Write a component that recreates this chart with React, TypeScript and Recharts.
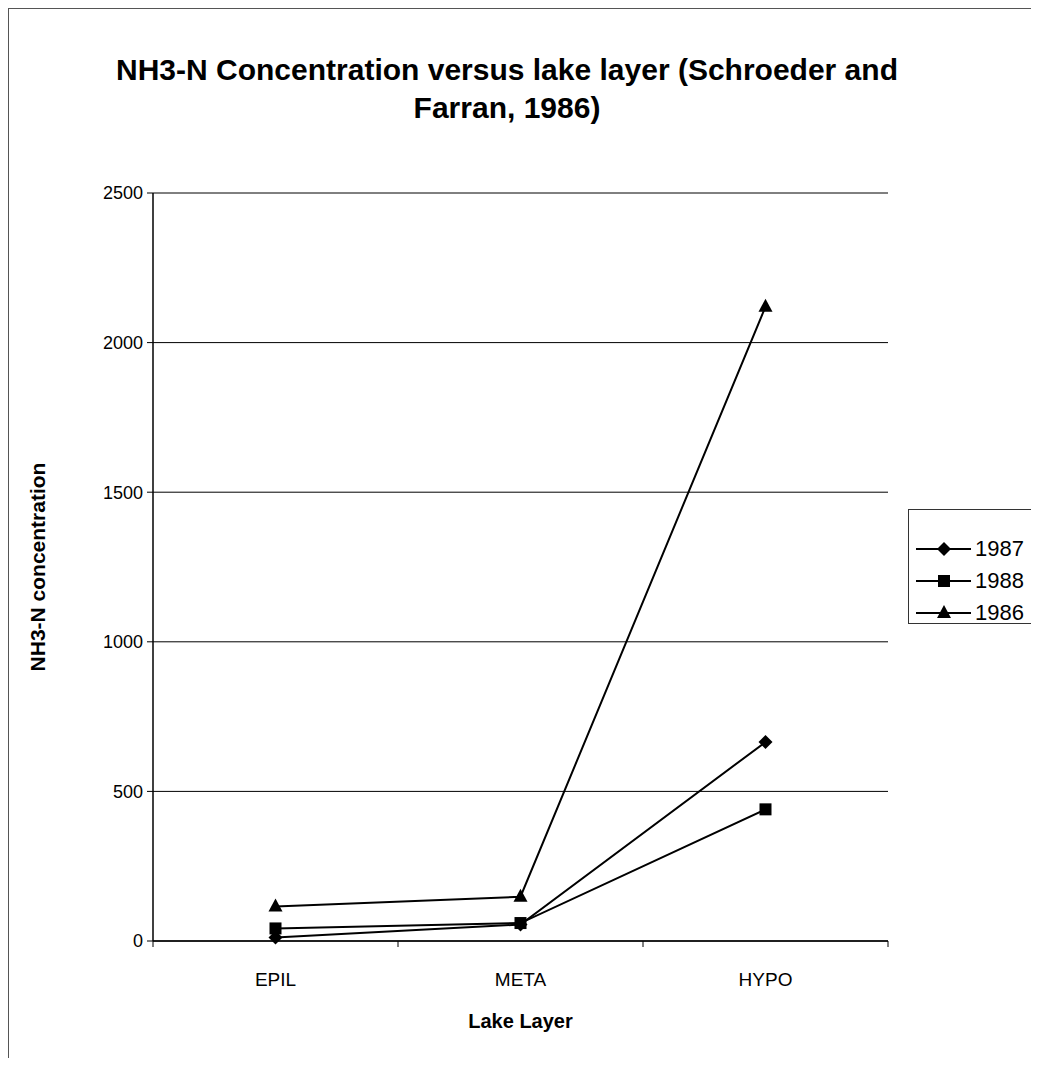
import React from "react";
import {
  LineChart,
  Line,
  XAxis,
  YAxis,
  CartesianGrid,
  Label,
} from "recharts";

const layers = ["EPIL", "META", "HYPO"];
const values1987 = [12, 55, 665];
const values1988 = [42, 60, 440];
const values1986 = [115, 148, 2120];
const yTicks = [0, 500, 1000, 1500, 2000, 2500];

const data = layers.map((layer, i) => ({
  layer,
  y1987: values1987[i],
  y1988: values1988[i],
  y1986: values1986[i],
}));

const W = 1031;
const H = 1049;
const margin = { top: 184, right: 152, left: 64, bottom: 57 };
const plotW = W - margin.left - 80 - margin.right;
const halfStep = plotW / layers.length / 2;
const font = "Arial, 'Liberation Sans', sans-serif";

const Diamond = (props: any) => {
  const { cx, cy } = props;
  if (cx == null || cy == null) return null;
  const r = 7;
  return (
    <path
      d={`M${cx},${cy - r}L${cx + r},${cy}L${cx},${cy + r}L${cx - r},${cy}Z`}
      fill="#000"
    />
  );
};

const Square = (props: any) => {
  const { cx, cy } = props;
  if (cx == null || cy == null) return null;
  return <rect x={cx - 6} y={cy - 6} width={12} height={12} fill="#000" />;
};

const Triangle = (props: any) => {
  const { cx, cy } = props;
  if (cx == null || cy == null) return null;
  return (
    <path
      d={`M${cx},${cy - 8}L${cx + 7},${cy + 5}L${cx - 7},${cy + 5}Z`}
      fill="#000"
    />
  );
};

const XTick = (props: any) => {
  const { x, y, payload, index } = props;
  const last = index === layers.length - 1;
  return (
    <g>
      <line x1={x - halfStep} x2={x - halfStep} y1={y - 8} y2={y - 2} stroke="#000" />
      {last && (
        <line x1={x + halfStep} x2={x + halfStep} y1={y - 8} y2={y - 2} stroke="#000" />
      )}
      <text x={x} y={y + 37} textAnchor="middle" fontSize={19} fontFamily={font} fill="#000">
        {payload.value}
      </text>
    </g>
  );
};

const legendItems = [
  { label: "1987", Shape: Diamond },
  { label: "1988", Shape: Square },
  { label: "1986", Shape: Triangle },
];

const LegendBox = () => (
  <div
    style={{
      position: "absolute",
      left: 899,
      top: 500,
      border: "1px solid #333",
      width: 129,
      height: 115,
      boxSizing: "border-box",
      background: "#fff",
      paddingTop: 23,
    }}
  >
    {legendItems.map(({ label, Shape }) => (
      <div key={label} style={{ display: "flex", alignItems: "center", height: 32 }}>
        <svg width={66} height={20}>
          <line x1={7} x2={62} y1={10} y2={10} stroke="#000" strokeWidth={2} />
          <Shape cx={35} cy={10} />
        </svg>
        <span style={{ fontFamily: font, fontSize: 22, color: "#000" }}>{label}</span>
      </div>
    ))}
  </div>
);

export default function App() {
  return (
    <div
      style={{
        position: "relative",
        width: W,
        height: H,
        borderTop: "1px solid #555",
        borderLeft: "1px solid #555",
        background: "#fff",
      }}
    >
      <div
        style={{
          position: "absolute",
          top: 42,
          left: 0,
          width: 996,
          textAlign: "center",
          fontFamily: font,
          fontWeight: "bold",
          fontSize: 30,
          lineHeight: "38px",
          color: "#000",
        }}
      >
        NH3-N Concentration versus lake layer (Schroeder and
        <br />
        Farran, 1986)
      </div>
      <LineChart width={W} height={H} data={data} margin={margin}>
        <CartesianGrid horizontal vertical={false} stroke="#000" strokeWidth={1} />
        <XAxis
          dataKey="layer"
          scale="point"
          padding={{ left: halfStep, right: halfStep }}
          tickLine={false}
          axisLine={{ stroke: "#000", strokeWidth: 1.5 }}
          tick={<XTick />}
          height={60}
          interval={0}
        >
          <Label
            value="Lake Layer"
            position="insideBottom"
            offset={-27}
            style={{ fontFamily: font, fontSize: 20, fontWeight: "bold", fill: "#000" }}
          />
        </XAxis>
        <YAxis
          domain={[0, 2500]}
          ticks={yTicks}
          width={80}
          tickSize={6}
          tickLine={{ stroke: "#000" }}
          axisLine={{ stroke: "#000", strokeWidth: 1.5 }}
          tick={{ fontFamily: font, fontSize: 18, fill: "#000" }}
          tickMargin={4}
        >
          <Label
            value="NH3-N concentration"
            angle={-90}
            position="insideLeft"
            offset={-35}
            style={{
              textAnchor: "middle",
              fontFamily: font,
              fontSize: 21,
              fontWeight: "bold",
              fill: "#000",
            }}
          />
        </YAxis>
        <YAxis
          yAxisId="right"
          orientation="right"
          width={0}
          tick={false}
          tickLine={false}
          axisLine={{ stroke: "#000", strokeWidth: 1 }}
        />
        <Line
          dataKey="y1987"
          name="1987"
          stroke="#000"
          strokeWidth={2}
          dot={<Diamond />}
          activeDot={false}
          isAnimationActive={false}
        />
        <Line
          dataKey="y1988"
          name="1988"
          stroke="#000"
          strokeWidth={2}
          dot={<Square />}
          activeDot={false}
          isAnimationActive={false}
        />
        <Line
          dataKey="y1986"
          name="1986"
          stroke="#000"
          strokeWidth={2}
          dot={<Triangle />}
          activeDot={false}
          isAnimationActive={false}
        />
      </LineChart>
      <LegendBox />
    </div>
  );
}
